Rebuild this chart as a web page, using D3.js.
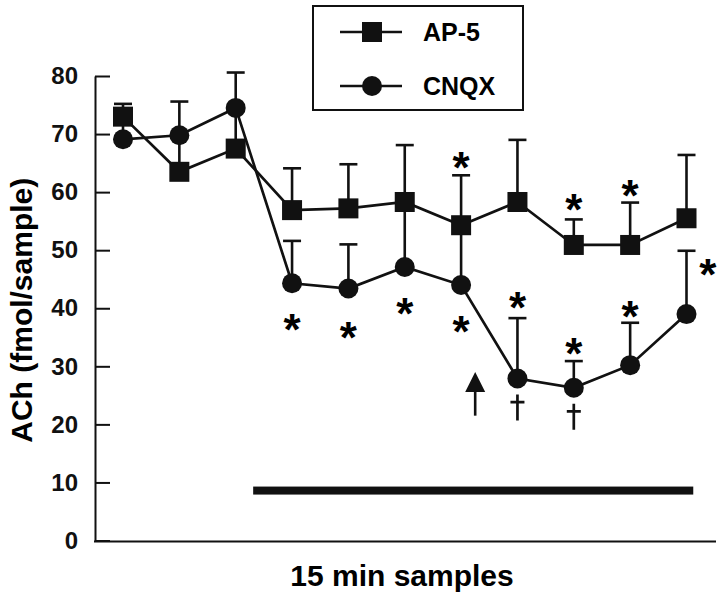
<!DOCTYPE html>
<meta charset="utf-8">
<head>
    <script type="text/javascript" src="https://cdn.jsdelivr.net/npm/d3@7"></script>
    <style>
        body {
            margin: 0;
            background: white;
            font-family: "Liberation Sans", Arial, Helvetica, sans-serif;
        }
        .axis path, .axis line {
            stroke: #111;
            stroke-width: 2;
        }
        .axis text {
            font-family: "Liberation Sans", Arial, sans-serif;
            font-weight: bold;
            font-size: 24px;
            fill: #111;
        }
    </style>
    <title>ACh - AP-5 / CNQX</title>
</head>

<body>
    <div id="chart"></div>

    <script>
        var w = 720;
        var h = 597;

        // data
        var samples = [1, 2, 3, 4, 5, 6, 7, 8, 9, 10, 11];
        var ap5 = [73.0, 63.5, 67.5, 56.9, 57.2, 58.3, 54.3, 58.3, 50.9, 50.9, 55.5];
        var ap5Err = [75.2, 69.5, 74.0, 64.1, 64.8, 68.1, 62.9, 69.0, 55.3, 58.2, 66.4];
        var cnqx = [69.1, 69.8, 74.5, 44.3, 43.4, 47.1, 44.0, 27.9, 26.3, 30.2, 39.0];
        var cnqxErr = [72.0, 75.6, 80.6, 51.6, 51.0, 58.0, 54.0, 38.3, 30.9, 37.5, 49.9];
        var yTicks = [0, 10, 20, 30, 40, 50, 60, 70, 80];

        // significance marks: [sample, value at mark centre]
        var ap5Stars = [[7, 65.9], [9, 58.6], [10, 61.1]];
        var cnqxStars = [[4, 38.0], [5, 36.6], [6, 40.8], [7, 37.7], [8, 41.7], [9, 33.9], [10, 40.2], [11.38, 47.4]];
        var daggers = [[8, 22.9], [9, 21.3]];
        var treatmentBar = [3.31, 11.12];
        var treatmentLevel = 8.6;
        var arrowAt = [7.25, 29.0, 21.5];

        var svg = d3.select("#chart")
            .append("svg")
            .attr("width", w)
            .attr("height", h);

        var x = d3.scaleLinear().domain([1, 11]).range([123, 686.5]);
        var y = d3.scaleLinear().domain([0, 80]).range([540.5, 76]);

        // y axis with inward ticks
        svg.append("g")
            .attr("class", "axis")
            .attr("transform", "translate(95,0)")
            .call(d3.axisLeft(y).tickValues(yTicks).tickSizeInner(-15).tickSizeOuter(0).tickPadding(17));

        // x axis: plain line
        svg.append("line")
            .attr("x1", 94).attr("x2", 716)
            .attr("y1", y(0) + 1).attr("y2", y(0) + 1)
            .attr("stroke", "#111").attr("stroke-width", 2);

        svg.append("text")
            .attr("transform", "translate(32," + (y(40) + 2) + ") rotate(-90)")
            .attr("text-anchor", "middle")
            .style("font-weight", "bold")
            .style("font-size", "30px")
            .text("ACh (fmol/sample)");

        svg.append("text")
            .attr("x", 402).attr("y", 586)
            .attr("text-anchor", "middle")
            .style("font-weight", "bold")
            .style("font-size", "30px")
            .text("15 min samples");

        // treatment bar
        svg.append("rect")
            .attr("x", x(treatmentBar[0]))
            .attr("width", x(treatmentBar[1]) - x(treatmentBar[0]))
            .attr("y", y(treatmentLevel) - 4)
            .attr("height", 8)
            .attr("fill", "#111");

        var line = d3.line().x((d, i) => x(samples[i])).y(d => y(d));

        [ap5, cnqx].forEach(s => {
            svg.append("path")
                .attr("d", line(s))
                .attr("fill", "none")
                .attr("stroke", "#111")
                .attr("stroke-width", 2.7);
        });

        // error bars (upper only)
        [[ap5, ap5Err], [cnqx, cnqxErr]].forEach(([s, e]) => {
            var g = svg.append("g").attr("stroke", "#111").attr("stroke-width", 2.6);
            samples.forEach((sm, i) => {
                g.append("line")
                    .attr("x1", x(sm)).attr("x2", x(sm))
                    .attr("y1", y(s[i])).attr("y2", y(e[i]));
                g.append("line")
                    .attr("x1", x(sm) - 9).attr("x2", x(sm) + 9)
                    .attr("y1", y(e[i])).attr("y2", y(e[i]));
            });
        });

        svg.selectAll("circle.cnqx")
            .data(cnqx)
            .join("circle")
            .attr("class", "cnqx")
            .attr("cx", (d, i) => x(samples[i]))
            .attr("cy", d => y(d))
            .attr("r", 10)
            .attr("fill", "#111");

        svg.selectAll("rect.ap5")
            .data(ap5)
            .join("rect")
            .attr("class", "ap5")
            .attr("x", (d, i) => x(samples[i]) - 10)
            .attr("y", d => y(d) - 10)
            .attr("width", 20)
            .attr("height", 20)
            .attr("fill", "#111");

        // stars
        svg.selectAll("text.star")
            .data(ap5Stars.concat(cnqxStars))
            .join("text")
            .attr("class", "star")
            .attr("x", d => x(d[0]))
            .attr("y", d => y(d[1]) + 25)
            .attr("text-anchor", "middle")
            .style("font-weight", "bold")
            .style("font-size", "44px")
            .text("*");

        // daggers drawn as small crosses (stem + bar near top)
        svg.selectAll("path.dagger")
            .data(daggers)
            .join("path")
            .attr("class", "dagger")
            .attr("d", d => {
                var cx = x(d[0]), cy = y(d[1]);
                var p = d3.path();
                p.moveTo(cx, cy - 13); p.lineTo(cx, cy + 13);
                p.moveTo(cx - 7, cy - 5.5); p.lineTo(cx + 7, cy - 5.5);
                return p.toString();
            })
            .attr("stroke", "#111")
            .attr("stroke-width", 2.7)
            .attr("fill", "none");

        // arrow
        var ax = x(arrowAt[0]);
        svg.append("line")
            .attr("x1", ax).attr("x2", ax)
            .attr("y1", y(arrowAt[1]) + 15).attr("y2", y(arrowAt[2]))
            .attr("stroke", "#111").attr("stroke-width", 2.6);
        svg.append("path")
            .attr("d", "M" + ax + "," + y(arrowAt[1]) + " l10,20 l-20,0 Z")
            .attr("fill", "#111");

        // legend
        var legend = svg.append("g");
        legend.append("rect")
            .attr("x", 313).attr("y", 6)
            .attr("width", 210).attr("height", 104)
            .attr("fill", "none")
            .attr("stroke", "#111")
            .attr("stroke-width", 2);
        var items = [["AP-5", 32, "square"], ["CNQX", 86, "circle"]];
        items.forEach(([name, ly, shape]) => {
            legend.append("line")
                .attr("x1", 340).attr("x2", 402)
                .attr("y1", ly).attr("y2", ly)
                .attr("stroke", "#111").attr("stroke-width", 2.6);
            if (shape === "square") {
                legend.append("rect").attr("x", 362).attr("y", ly - 10).attr("width", 20).attr("height", 20).attr("fill", "#111");
            } else {
                legend.append("circle").attr("cx", 372).attr("cy", ly).attr("r", 10).attr("fill", "#111");
            }
            legend.append("text")
                .attr("x", 423).attr("y", ly + 9)
                .style("font-weight", "bold")
                .style("font-size", "25px")
                .text(name);
        });
    </script>
</body>
</html>
